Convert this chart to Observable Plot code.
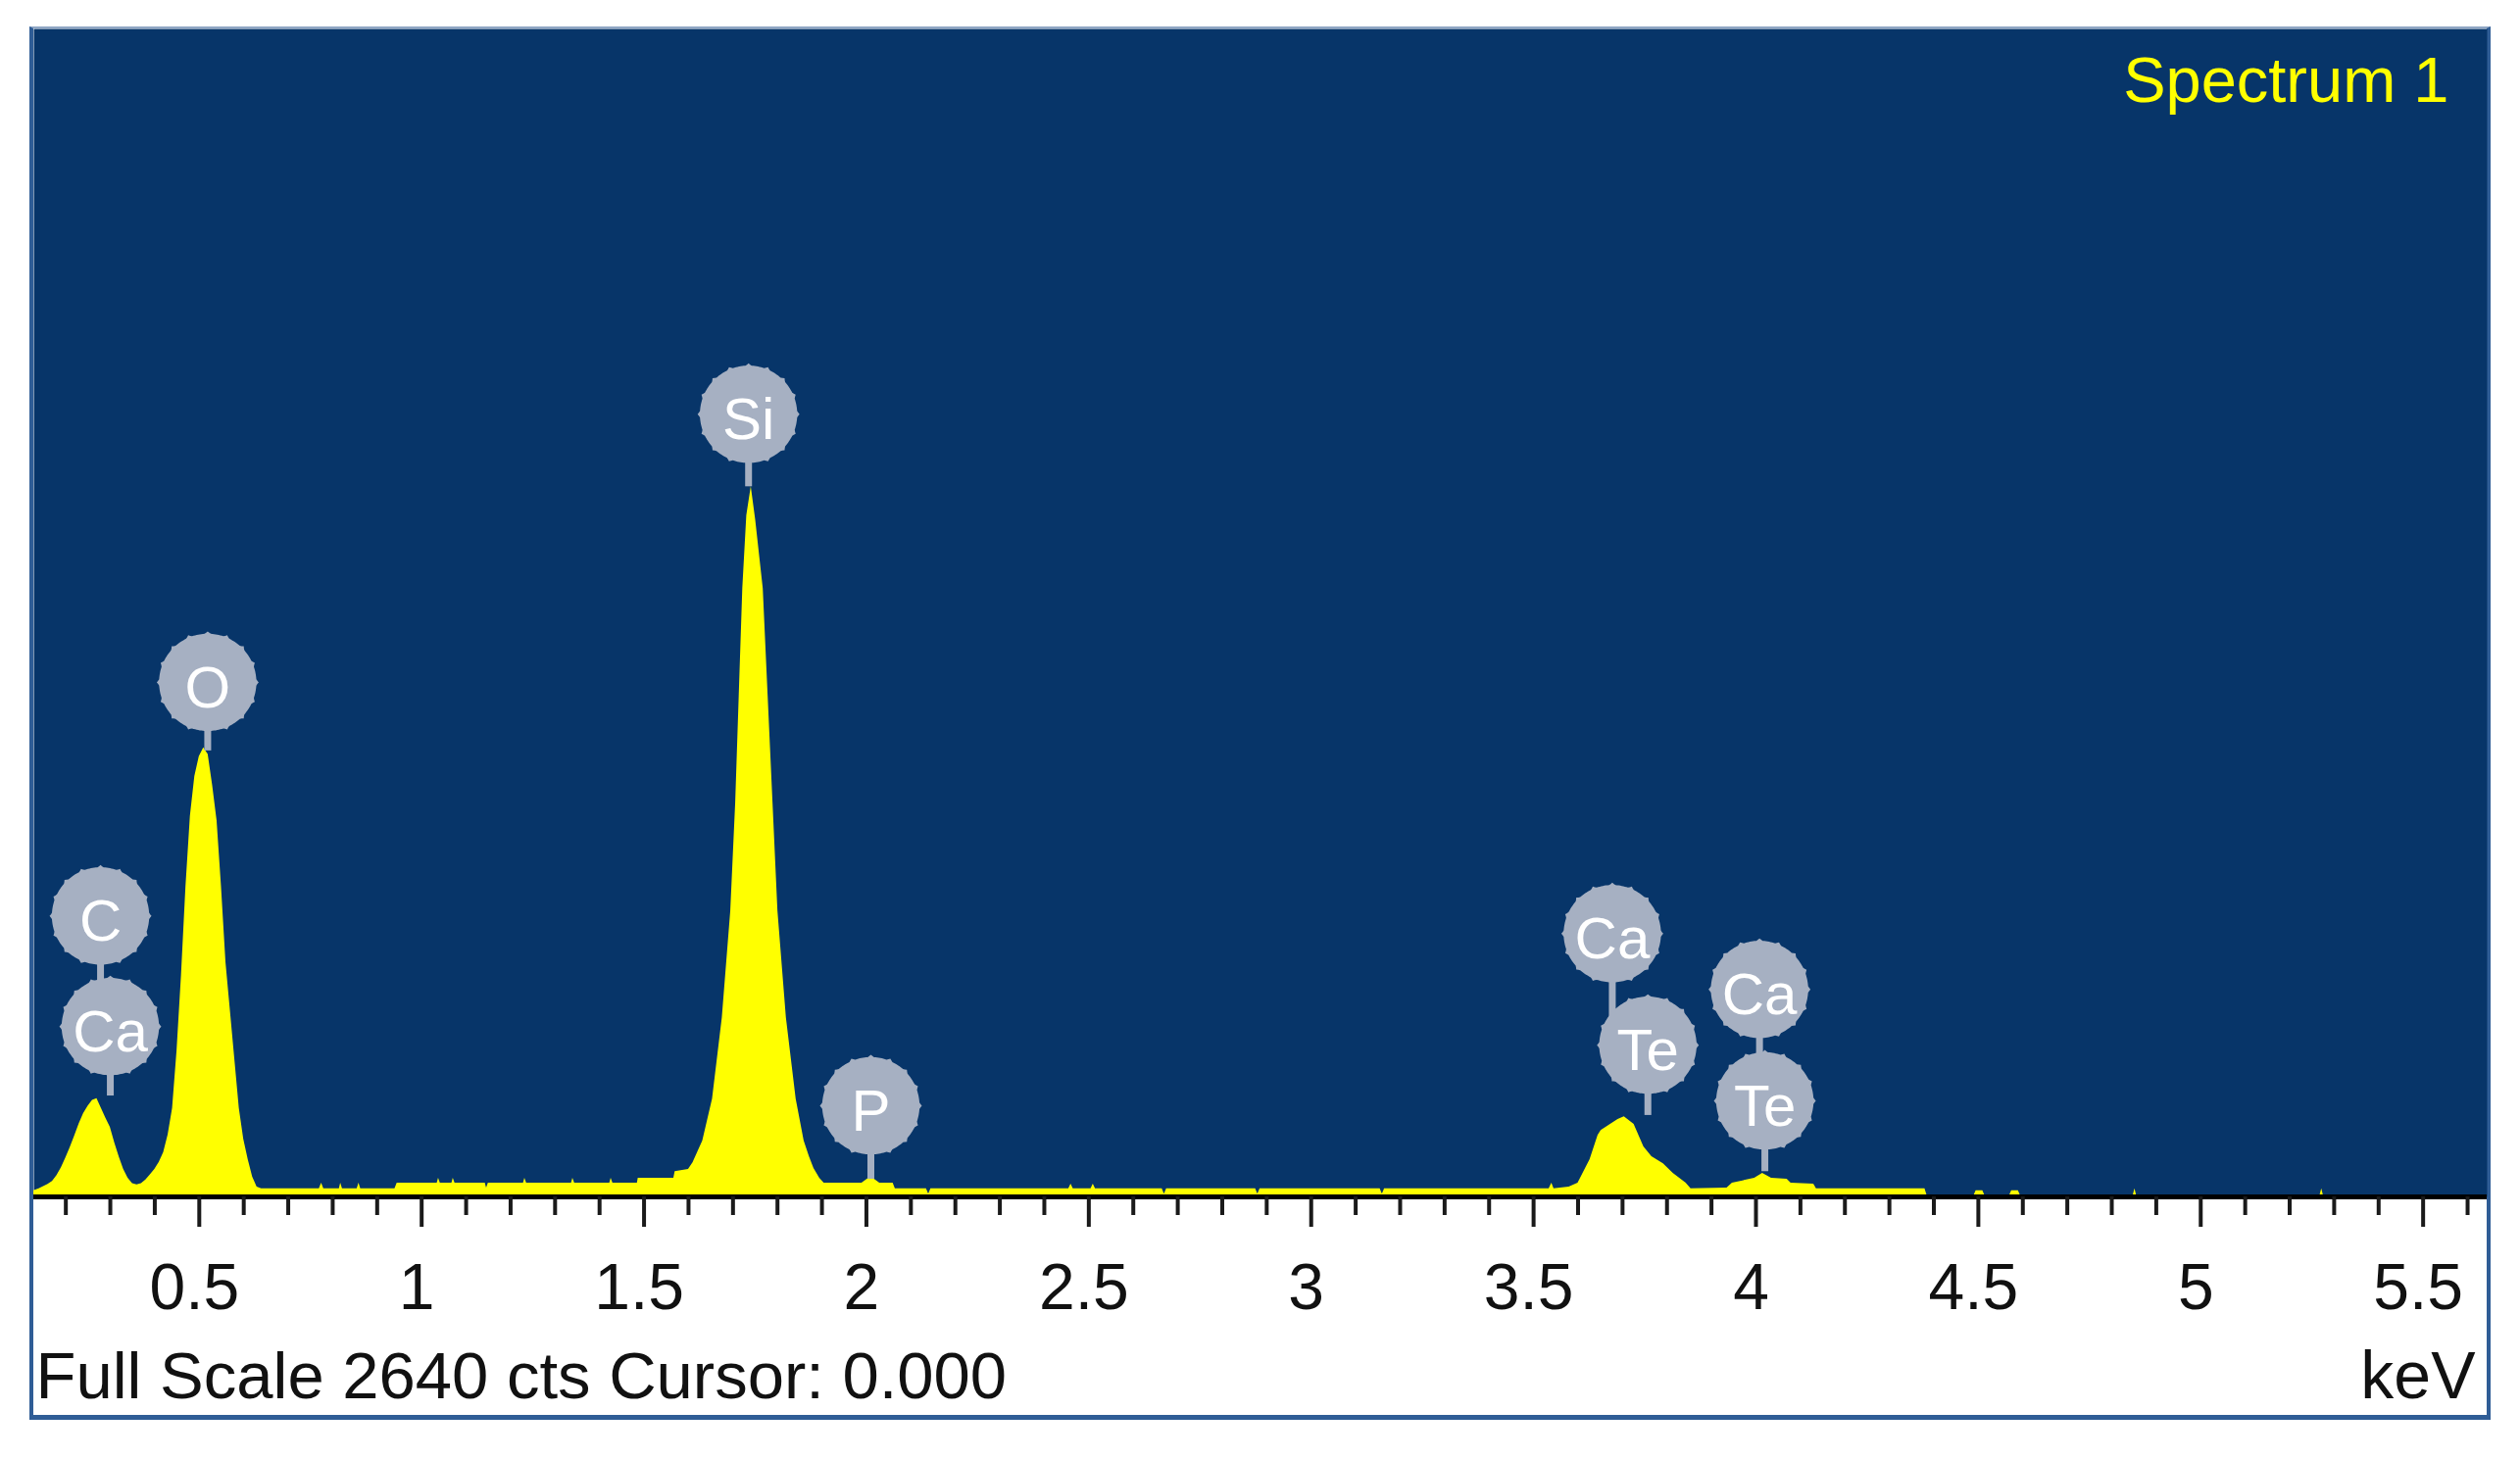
<!DOCTYPE html>
<html><head><meta charset="utf-8">
<script src="https://cdn.jsdelivr.net/npm/d3@7"></script>
<script src="https://cdn.jsdelivr.net/npm/@observablehq/plot@0.6"></script>
<style>
html,body{margin:0;padding:0;background:#fff;}
#panel{position:absolute;left:30px;top:27px;border-style:solid;border-color:#8fa6c4 #2f5d96 #2f5d96 #2f5d96;border-width:2px 4px 5px 4px;background:#fff;width:2503px;height:1415px;overflow:visible;}
</style></head><body><div id="panel"></div>
<script>
// Spectrum: [energy keV, counts]
const lowPeaks = [
 [0.128,14],[0.14,18],[0.16,28],[0.17,35],[0.18,48],[0.19,66],[0.20,88],[0.21,112],[0.22,138],[0.23,165],
 [0.24,188],[0.25,205],[0.26,218],[0.27,222],[0.28,200],[0.29,178],[0.30,157],[0.31,122],[0.32,90],[0.33,62],
 [0.34,42],[0.35,30],[0.36,27],[0.37,30],[0.38,38],[0.39,50],[0.40,62],[0.41,78],[0.42,100],[0.43,140],
 [0.44,200],[0.45,330],[0.46,500],[0.47,700],[0.48,860],[0.49,950],[0.50,995],[0.51,1015],[0.52,1000],[0.53,930],
 [0.54,850],[0.55,700],[0.56,530],[0.57,420],[0.58,310],[0.59,200],[0.60,130],[0.61,84],[0.62,45],[0.63,22],[0.64,18]
];
const lowBackground = [
 [0.77,18],[0.775,31],[0.78,18],[0.815,18],[0.818,31],[0.822,18],[0.855,18],[0.859,31],[0.863,18],[0.94,18],
 [0.945,31],[1.035,31],[1.038,42],[1.042,31],[1.068,31],[1.071,42],[1.075,31],[1.143,31],[1.146,20],[1.150,31],
 [1.229,31],[1.232,42],[1.236,31],[1.337,31],[1.340,42],[1.344,31],[1.423,31],[1.426,42],[1.430,31],[1.485,31],
 [1.487,42],[1.567,42],[1.57,57],[1.60,62]
];
const siPeak = [
 [1.61,77],[1.632,126],[1.654,221],[1.676,405],[1.695,646],[1.706,889],[1.714,1132],[1.722,1375],[1.731,1540],[1.741,1605],
 [1.751,1530],[1.768,1375],[1.779,1132],[1.790,889],[1.801,646],[1.820,405],[1.842,221],[1.860,126],[1.872,90],[1.882,64],
 [1.895,42],[1.905,31]
];
const midBackground = [
 [1.99,31],[2.005,42],[2.015,42],[2.03,31],[2.06,31],[2.065,18],[2.135,18],[2.14,6],[2.145,18],[2.455,18],
 [2.46,29],[2.465,18],[2.505,18],[2.51,29],[2.515,18],[2.665,18],[2.67,6],[2.675,18],[2.875,18],[2.88,6],
 [2.885,18],[3.155,18],[3.16,6],[3.165,18],[3.535,18],[3.541,31],[3.546,18],[3.58,22]
];
const caPeaks = [
 [3.60,31],[3.627,84],[3.645,139],[3.652,150],[3.673,164],[3.690,175],[3.704,181],[3.726,164],[3.748,113],[3.766,91],
 [3.792,75],[3.814,53],[3.843,31],[3.854,18],[3.935,20],[3.947,31],[3.997,42],[4.015,53],[4.035,42],[4.070,40],
 [4.079,31],[4.130,29],[4.136,18]
];
const highTail = [
 [4.38,18],[4.385,2],[4.49,2],[4.495,14],[4.51,14],[4.515,2],[4.57,2],[4.575,14],[4.59,14],[4.595,2],
 [4.848,2],[4.852,18],[4.856,2],[5.268,2],[5.272,18],[5.276,2],[5.644,2]
];

// Element markers
const lineNames  = ["C", "Ca", "O", "Si", "P", "Ca", "Te", "Ca", "Te"];
const lineEnergy = [0.278, 0.300, 0.519, 1.735, 2.010, 3.677, 3.757, 4.008, 4.020];
const lineLevel  = [635, 385, 1163, 1769, 206, 595, 343, 469, 217];
const stemEnd    = [385, 228, 1008, 1605, 40, 343, 184, 217, 57];

const majorTicks = [0.5, 1, 1.5, 2, 2.5, 3, 3.5, 4, 4.5, 5, 5.5];
const majorLabels = ["0.5","1","1.5","2","2.5","3","3.5","4","4.5","5","5.5"];
const minorTicks = d3.range(2, 57).filter(i => i % 5 !== 0).map(i => i / 10);

const fullScale = 2640;
const title = "Spectrum 1";
const unit = "keV";

const spectrum = [...lowPeaks, ...lowBackground, ...siPeak, ...midBackground, ...caPeaks, ...highTail]
  .map(([e, c]) => ({e, c}));
const labels = lineNames.map((n, i) => ({n, e: lineEnergy[i], y: lineLevel[i], s: stemEnd[i]}));
const ticksLab = majorTicks.map((t, i) => ({t, l: majorLabels[i]}));

const gear = {
  draw(ctx, size) {
    const r = Math.sqrt(size / Math.PI);
    const N = 192, teeth = 16;
    for (let i = 0; i <= N; i++) {
      const t = i / N * 2 * Math.PI;
      const b = Math.pow(Math.max(0, Math.cos(teeth * t)), 6);
      const rr = r * (0.955 + 0.045 * b);
      const x = rr * Math.cos(t), y = rr * Math.sin(t);
      if (i) ctx.lineTo(x, y); else ctx.moveTo(x, y);
    }
    ctx.closePath();
  }
};

const labelGray = "#a6b0c2";
const chart = Plot.plot({
  width: 2503, height: 1415,
  marginLeft: 0, marginRight: 0, marginTop: 0, marginBottom: 223,
  x: {domain: [0.128, 5.644], axis: null, label: null},
  y: {domain: [0, fullScale], axis: null, label: null},
  style: {background: "transparent", fontFamily: "'Liberation Sans', Arial, sans-serif", overflow: "visible"},
  marks: [
    Plot.frame({fill: "#073569", stroke: "none"}),
    Plot.areaY(spectrum, {x: "e", y: "c", fill: "#ffff00", curve: "linear"}),
    Plot.ruleY([0], {stroke: "#000", strokeWidth: 5}),
    Plot.axisX(minorTicks, {tickSize: 19, strokeWidth: 4, stroke: "#1a1a1a", tickFormat: () => "", label: null}),
    Plot.axisX(majorTicks, {tickSize: 31, strokeWidth: 4, stroke: "#1a1a1a", tickFormat: () => "", label: null}),
    Plot.text(ticksLab, {x: "t", y: 0, text: "l", dy: 114, dx: -5, fontSize: 66, lineAnchor: "bottom", fill: "#111"}),
    Plot.ruleX(labels, {x: "e", y1: "y", y2: "s", stroke: labelGray, strokeWidth: 7}),
    Plot.dot(labels, {x: "e", y: "y", r: 52, fill: labelGray, stroke: "none", symbol: gear}),
    Plot.text(labels, {x: "e", y: "y", text: "n", fill: "#ffffff", fontSize: 60, dy: 6}),
    Plot.text([title], {frameAnchor: "top-right", dx: -39, dy: 74, textAnchor: "end", lineAnchor: "bottom", fill: "#ffff00", fontSize: 65}),
    Plot.text([`Full Scale ${fullScale} cts Cursor: 0.000`], {frameAnchor: "bottom-left", dx: 2, dy: 205, textAnchor: "start", lineAnchor: "bottom", fontSize: 67, fill: "#111"}),
    Plot.text([unit], {frameAnchor: "bottom-right", dx: -12, dy: 205, textAnchor: "end", lineAnchor: "bottom", fontSize: 68, fill: "#111"})
  ]
});
document.getElementById("panel").appendChild(chart);
</script>
</body></html>
